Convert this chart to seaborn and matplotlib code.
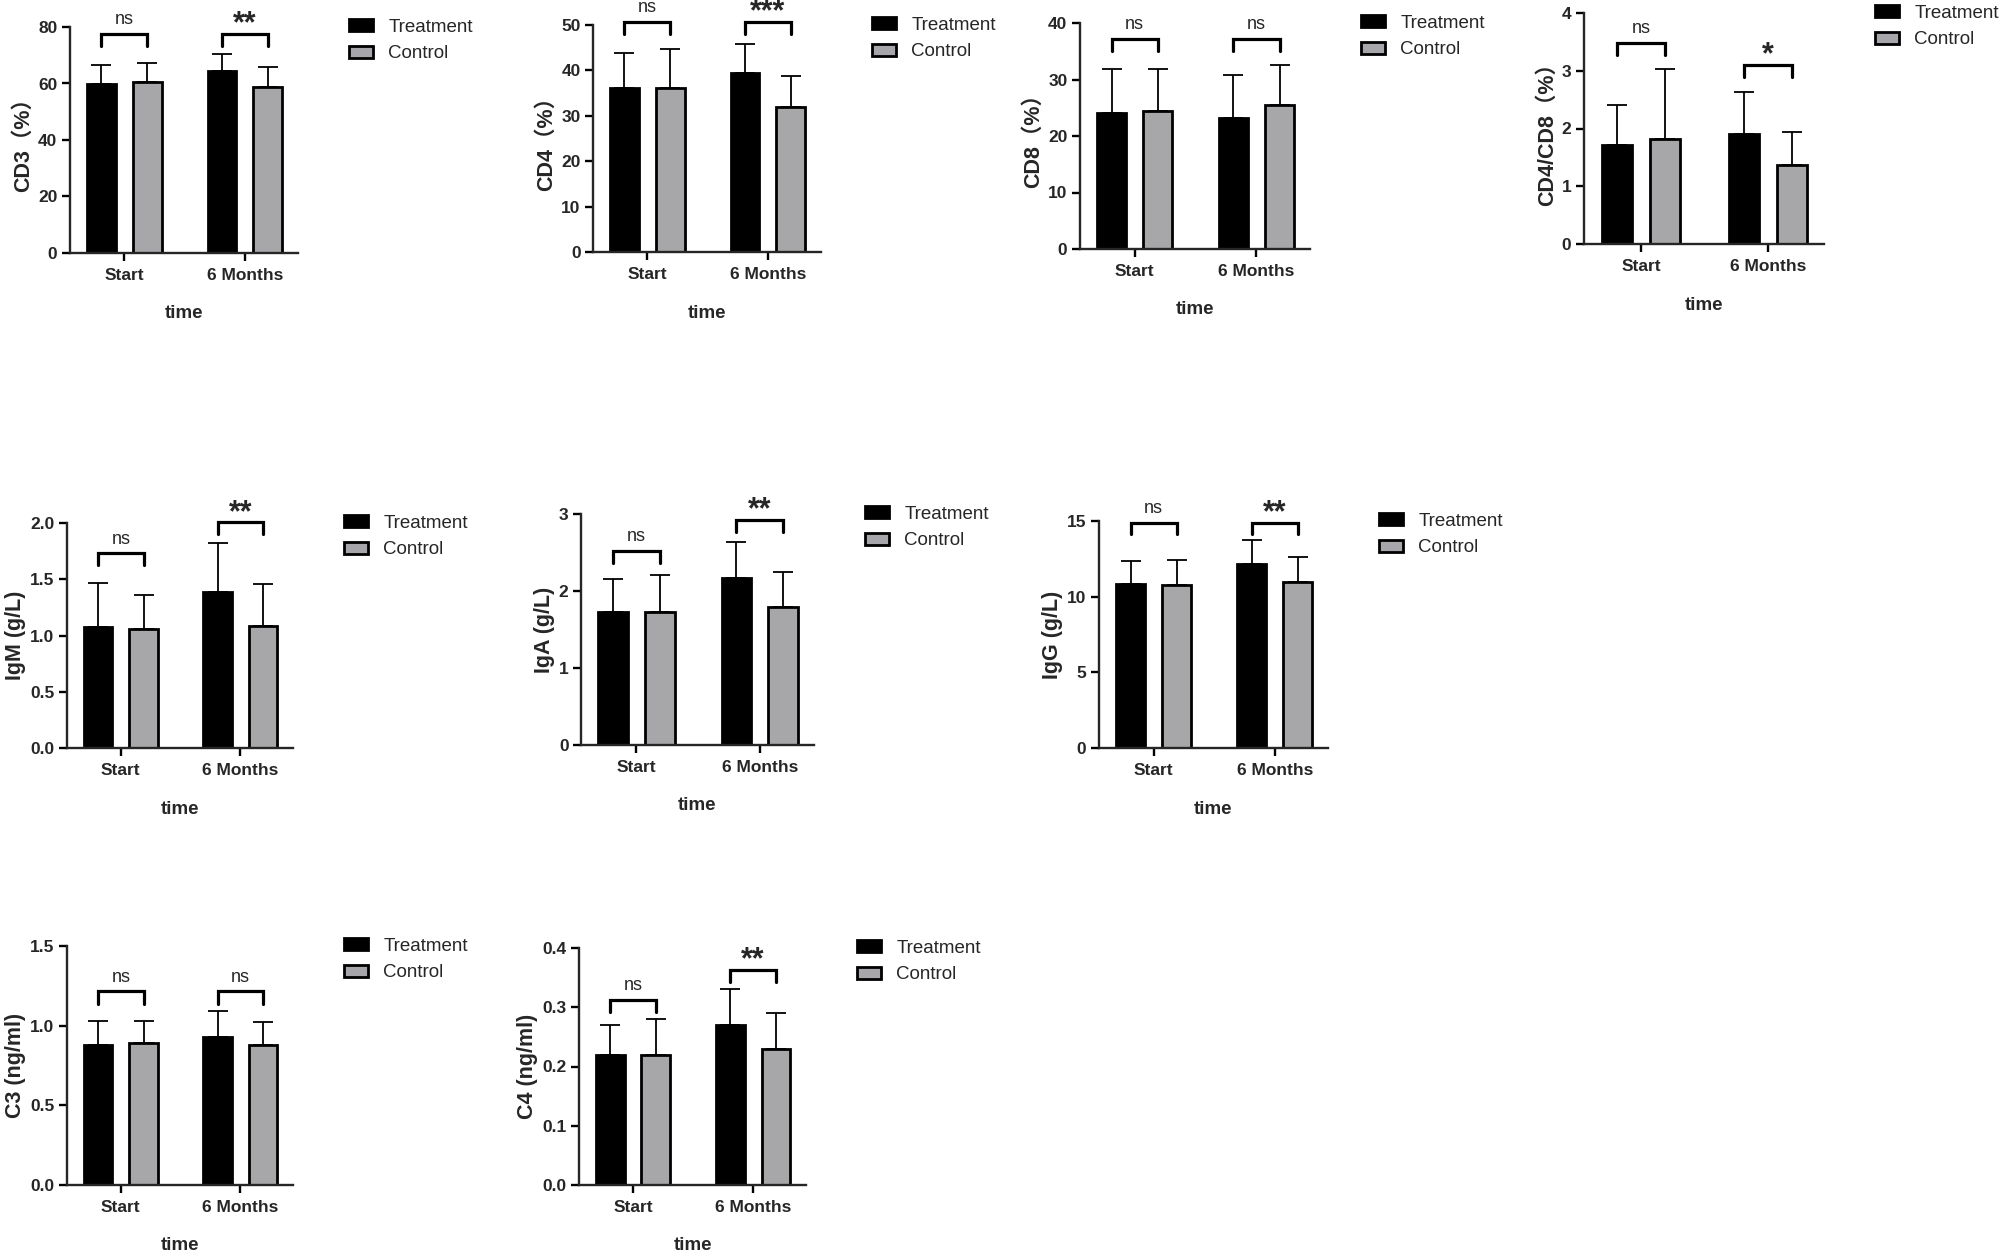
import pandas as pd
import seaborn as sns
import matplotlib
matplotlib.use("Agg")
import matplotlib.pyplot as plt
from matplotlib.patches import Patch

# ---- data ----
times = ["Start", "6 Months"]
arms = ["Treatment", "Control"]
colors = {"Treatment": "#000000", "Control": "#A6A6AB"}

cd3_treat, cd3_treat_sd = [59.8, 64.4], [6.9, 6.1]
cd3_ctrl, cd3_ctrl_sd = [60.4, 58.9], [7.0, 7.0]
cd3_sig = ["ns", "**"]

cd4_treat, cd4_treat_sd = [36.1, 39.5], [7.8, 6.4]
cd4_ctrl, cd4_ctrl_sd = [36.2, 32.0], [8.6, 6.7]
cd4_sig = ["ns", "***"]

cd8_treat, cd8_treat_sd = [24.0, 23.1], [7.9, 7.7]
cd8_ctrl, cd8_ctrl_sd = [24.4, 25.4], [7.5, 7.2]
cd8_sig = ["ns", "ns"]

ratio_treat, ratio_treat_sd = [1.71, 1.90], [0.70, 0.74]
ratio_ctrl, ratio_ctrl_sd = [1.81, 1.37], [1.22, 0.57]
ratio_sig = ["ns", "*"]

igm_treat, igm_treat_sd = [1.08, 1.385], [0.39, 0.435]
igm_ctrl, igm_ctrl_sd = [1.055, 1.088], [0.305, 0.372]
igm_sig = ["ns", "**"]

iga_treat, iga_treat_sd = [1.73, 2.17], [0.43, 0.47]
iga_ctrl, iga_ctrl_sd = [1.73, 1.79], [0.48, 0.46]
iga_sig = ["ns", "**"]

igg_treat, igg_treat_sd = [10.83, 12.19], [1.51, 1.58]
igg_ctrl, igg_ctrl_sd = [10.76, 10.98], [1.65, 1.62]
igg_sig = ["ns", "**"]

c3_treat, c3_treat_sd = [0.88, 0.93], [0.15, 0.16]
c3_ctrl, c3_ctrl_sd = [0.89, 0.88], [0.14, 0.14]
c3_sig = ["ns", "ns"]

c4_treat, c4_treat_sd = [0.22, 0.27], [0.05, 0.06]
c4_ctrl, c4_ctrl_sd = [0.22, 0.23], [0.06, 0.06]
c4_sig = ["ns", "**"]

# label, treat, treat_sd, ctrl, ctrl_sd, sig, yticks, tick fmt, bracket heights
panels = [
    ("CD3（%）", cd3_treat, cd3_treat_sd, cd3_ctrl, cd3_ctrl_sd, cd3_sig,
     [0, 20, 40, 60, 80], "{:.0f}", [77.6, 77.6]),
    ("CD4（%）", cd4_treat, cd4_treat_sd, cd4_ctrl, cd4_ctrl_sd, cd4_sig,
     [0, 10, 20, 30, 40, 50], "{:.0f}", [50.7, 50.7]),
    ("CD8（%）", cd8_treat, cd8_treat_sd, cd8_ctrl, cd8_ctrl_sd, cd8_sig,
     [0, 10, 20, 30, 40], "{:.0f}", [37.2, 37.2]),
    ("CD4/CD8（%）", ratio_treat, ratio_treat_sd, ratio_ctrl, ratio_ctrl_sd, ratio_sig,
     [0, 1, 2, 3, 4], "{:.0f}", [3.48, 3.1]),
    ("IgM (g/L)", igm_treat, igm_treat_sd, igm_ctrl, igm_ctrl_sd, igm_sig,
     [0, 0.5, 1.0, 1.5, 2.0], "{:.1f}", [1.73, 2.006]),
    ("IgA (g/L)", iga_treat, iga_treat_sd, iga_ctrl, iga_ctrl_sd, iga_sig,
     [0, 1, 2, 3], "{:.0f}", [2.52, 2.92]),
    ("IgG (g/L)", igg_treat, igg_treat_sd, igg_ctrl, igg_ctrl_sd, igg_sig,
     [0, 5, 10, 15], "{:.0f}", [14.9, 14.9]),
    ("C3 (ng/ml)", c3_treat, c3_treat_sd, c3_ctrl, c3_ctrl_sd, c3_sig,
     [0, 0.5, 1.0, 1.5], "{:.1f}", [1.216, 1.216]),
    ("C4 (ng/ml)", c4_treat, c4_treat_sd, c4_ctrl, c4_ctrl_sd, c4_sig,
     [0, 0.1, 0.2, 0.3, 0.4], "{:.1f}", [0.313, 0.363]),
]

# axes boxes in pixels: left, top, right, bottom
boxes = [
    (70, 27, 298, 253), (593, 25, 821, 252), (1080, 23, 1310, 249), (1584, 13, 1824, 244),
    (67, 523, 293, 748), (581, 514, 814, 745), (1099, 521, 1328, 748),
    (67, 946, 293, 1185), (579, 948, 806, 1185),
]

sns.set_style("ticks")
plt.rcParams["font.family"] = ["Liberation Sans", "Noto Sans CJK SC"]

W, H = 2008, 1260
fig = plt.figure(figsize=(W / 100, H / 100), dpi=100)

for (ylab, tm, tsd, cm, csd, sig, yt, fmt, bry), (l, t, r, b) in zip(panels, boxes):
    ax = fig.add_axes([l / W, 1 - b / H, (r - l) / W, (b - t) / H])
    df = pd.DataFrame({
        "time": times * 2,
        "arm": [arms[0]] * 2 + [arms[1]] * 2,
        "value": tm + cm,
    })
    sns.barplot(data=df, x="time", y="value", hue="arm", order=times, hue_order=arms,
                palette=colors, errorbar=None, width=0.76, gap=0.37,
                edgecolor="black", linewidth=2, legend=False, ax=ax)
    for cont, means, sds in zip(ax.containers, [tm, cm], [tsd, csd]):
        xs = [p.get_x() + p.get_width() / 2 for p in cont]
        ax.errorbar(xs, means, yerr=[[0] * len(sds), sds], fmt="none", ecolor="black",
                    elinewidth=1.3, capsize=7, capthick=1.3, zorder=3)
    # significance brackets
    ymax = yt[-1]
    leg = 0.052 * ymax
    xt = [p.get_x() + p.get_width() / 2 for p in ax.containers[0]]
    xc = [p.get_x() + p.get_width() / 2 for p in ax.containers[1]]
    for x0, x1, yb, s in zip(xt, xc, bry, sig):
        ax.plot([x0, x0, x1, x1], [yb - leg, yb, yb, yb - leg], color="black", lw=2.3,
                clip_on=False, solid_joinstyle="miter")
        if s == "ns":
            ax.annotate(s, ((x0 + x1) / 2, yb), xytext=(0, 4), textcoords="offset points",
                        ha="center", va="bottom", fontsize=13, annotation_clip=False)
        else:
            ax.annotate(s, ((x0 + x1) / 2, yb), xytext=(0, -4), textcoords="offset points",
                        ha="center", va="bottom", fontsize=22, fontweight="bold",
                        annotation_clip=False)
    ax.set_xlim(-0.45, 1.44)
    ax.set_ylim(0, ymax)
    ax.set_yticks(yt)
    ax.set_yticklabels([fmt.format(v) for v in yt], fontsize=12.5, fontweight="bold")
    ax.set_xticks([0, 1])
    ax.set_xticklabels(times, fontsize=12.5, fontweight="bold")
    ax.set_xlabel("time", fontsize=13.5, fontweight="bold", labelpad=16)
    ax.set_ylabel(ylab, fontsize=15.5, fontweight="bold", labelpad=3)
    for sp in ["left", "bottom"]:
        ax.spines[sp].set_linewidth(1.7)
    sns.despine(ax=ax)
    ax.tick_params(axis="both", width=1.7, length=6, pad=3, color="black")
    ax.tick_params(axis="x", pad=5)

    handles = [Patch(facecolor=colors[a], edgecolor="black", linewidth=2) for a in arms]
    ax.legend(handles, arms, loc="upper left", frameon=False, fontsize=13.5,
              bbox_to_anchor=((r + 51) / W, 1 - (t - 8) / H), bbox_transform=fig.transFigure,
              borderpad=0, borderaxespad=0, handlelength=1.3, handleheight=0.6,
              handletextpad=0.8, labelspacing=0.5)

fig.savefig("out.png", dpi=100)
